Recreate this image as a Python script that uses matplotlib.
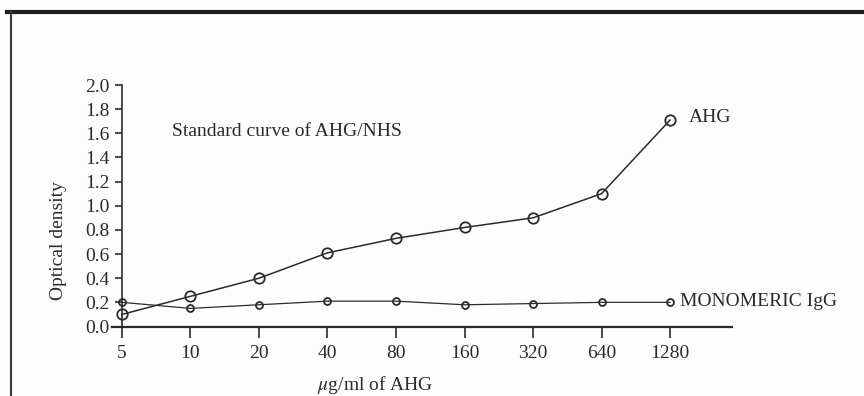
import matplotlib
matplotlib.use("Agg")
import matplotlib.pyplot as plt

# data
conc = [5, 10, 20, 40, 80, 160, 320, 640, 1280]
ahg = [0.10, 0.25, 0.40, 0.61, 0.73, 0.82, 0.90, 1.10, 1.71]
igg = [0.20, 0.15, 0.18, 0.21, 0.21, 0.18, 0.19, 0.20, 0.20]
xticklabels = ["5", "10", "20", "40", "80", "160", "320", "640", "1280"]
yticks = [0.0, 0.2, 0.4, 0.6, 0.8, 1.0, 1.2, 1.4, 1.6, 1.8, 2.0]

ink = "#2b2b2b"
plt.rcParams["font.family"] = ["Liberation Serif", "DejaVu Serif"]
plt.rcParams["font.size"] = 14
plt.rcParams["mathtext.fontset"] = "stix"

fig = plt.figure(figsize=(8.64, 3.96), dpi=100)
fig.patch.set_facecolor("#fdfdfd")

# frame of the scanned page
fig.add_artist(plt.Line2D([0.008, 1.0], [0.969, 0.969], color="#1e1e1e", lw=3.0))
fig.add_artist(plt.Line2D([0.013, 0.013], [0.0, 0.969], color="#3a3a3a", lw=1.5))

ax = fig.add_axes([0.1296, 0.1755, 0.7176, 0.6098])
ax.set_facecolor("none")
ax.set_xscale("log", base=2)
ax.set_xlim(5 / 2 ** (10 / 68.6), 1280 * 2 ** (62 / 68.6))
ax.set_ylim(0, 2.0)

ax.plot(conc, ahg, color=ink, lw=1.1, marker="o", ms=7.5, mfc="none", mec=ink, mew=1.3, clip_on=False)
ax.plot(conc, igg, color=ink, lw=0.9, marker="o", ms=5, mfc="none", mec=ink, mew=1.3, clip_on=False)

for s in ["top", "right"]:
    ax.spines[s].set_visible(False)
ax.spines["left"].set_position(("data", 5))
ax.spines["left"].set_bounds(0, 2.0)
ax.spines["left"].set_color(ink)
ax.spines["bottom"].set_color(ink)
ax.spines["left"].set_linewidth(1.2)
ax.spines["bottom"].set_linewidth(1.6)

ax.set_xticks(conc)
ax.set_xticklabels(xticklabels)
ax.minorticks_off()
ax.set_yticks(yticks)
ax.set_yticklabels([f"{v:.1f}" for v in yticks])
ax.tick_params(axis="both", colors=ink, labelcolor=ink, direction="out", width=1.2, labelsize=14)
ax.tick_params(axis="x", length=8, pad=5)
ax.tick_params(axis="y", length=5, pad=4)

ax.set_ylabel("Optical density", color=ink, fontsize=14)
ax.yaxis.set_label_coords(-0.072, 0.354)
ax.set_xlabel("$\\mu$g/ml of AHG", color=ink, fontsize=14)
ax.xaxis.set_label_coords(0.424, -0.195)

ax.text(8.28, 1.578, "Standard curve of AHG/NHS", color=ink, fontsize=14, va="baseline")
ax.text(1540, 1.695, "AHG", color=ink, fontsize=14, va="baseline")
ax.text(1410, 0.17, "MONOMERIC IgG", color=ink, fontsize=14, va="baseline")

fig.savefig("out.png", dpi=100, facecolor=fig.get_facecolor())
